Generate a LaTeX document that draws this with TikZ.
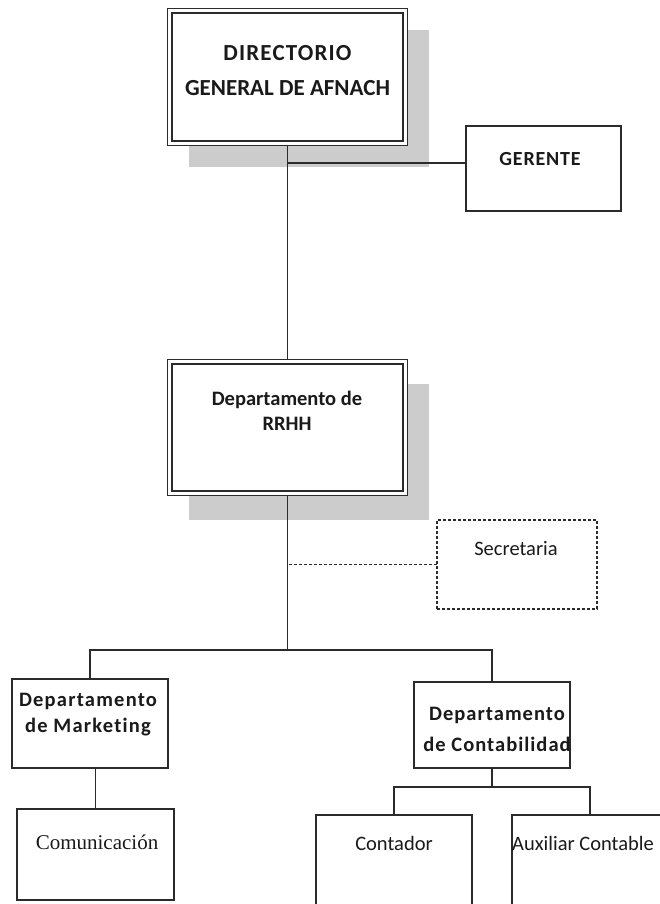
\documentclass[tikz,border=0pt]{standalone}
\usepackage{fontspec}
\setmainfont{Carlito}
\newfontfamily\comfont{Liberation Serif}
\usetikzlibrary{positioning,shadows}
\definecolor{boxink}{HTML}{2B2B2B}
\definecolor{shadowgray}{HTML}{CCCCCC}
\definecolor{textink}{HTML}{1A1A1A}
\tikzset{
  orgbox/.style={draw=boxink,line width=1.3pt,fill=white,outer sep=0pt,inner sep=0pt},
  headbox/.style={orgbox,line width=1.1pt,drop shadow={shadow xshift=21.5pt,shadow yshift=-#1,fill=shadowgray,opacity=1}},
  headbox/.default=21.5pt,
  boldlabel/.style={font=\fontsize{20.5}{25}\selectfont\bfseries,text=textink,inner sep=0pt,align=center,anchor=north},
  plainlabel/.style={font=\fontsize{20.5}{25}\selectfont,text=textink,inner sep=0pt,anchor=base},
  orgline/.style={draw=boxink,line width=1.3pt},
  innerline/.style={draw=boxink,line width=1.1pt},
}
\begin{document}
\begin{tikzpicture}[x=1pt,y=-1pt]
  \useasboundingbox (0,0) rectangle (660,904);
  \clip (0,0) rectangle (660,904);
  % boxes
  \node[headbox,minimum width=240pt,minimum height=137pt] (dir) at (287.5,77) {};
  \node[headbox=24pt,minimum width=240pt,minimum height=136pt] (rrhh) at (287.5,427.5) {};
  \draw[innerline] ([shift={(4.5pt,-4.5pt)}]dir.north west) rectangle ([shift={(-4.5pt,4.5pt)}]dir.south east);
  \draw[innerline] ([shift={(4.5pt,-4.5pt)}]rrhh.north west) rectangle ([shift={(-4.5pt,4.5pt)}]rrhh.south east);
  \node[orgbox,minimum width=155pt,minimum height=85pt] (ger) at (543.5,168.5) {};
  \node[orgbox,line width=1.1pt,dash pattern=on 3pt off 2pt,minimum width=160pt,minimum height=89pt] (sec) at (517,564.5) {};
  \node[orgbox,minimum width=156pt,minimum height=89pt] (mkt) at (90,723.5) {};
  \node[orgbox,minimum width=156pt,minimum height=86pt] (cont) at (492,725) {};
  \node[orgbox,minimum width=157pt,minimum height=91pt] (com) at (95.5,854.5) {};
  \node[orgbox,minimum width=156pt,minimum height=120pt] (ctr) at (394,875) {};
  \node[orgbox,minimum width=156pt,minimum height=120pt] (aux) at (590,875) {};
  % labels
  \node[boldlabel,font=\fontsize{23}{35}\selectfont\bfseries] (dirtext) at ([yshift=-37pt]dir.north) {{\addfontfeature{LetterSpace=5}DIRECTORIO}\\GENERAL DE AFNACH};
  \node[boldlabel,font=\fontsize{20}{24}\selectfont\bfseries\addfontfeature{LetterSpace=4}] (gertext) at ([xshift=-3.5pt,yshift=-26.5pt]ger.north) {GERENTE};
  \node[boldlabel] (rrhhtext) at ([xshift=-0.5pt,yshift=-31pt]rrhh.north) {Departamento de\\RRHH};
  \node[plainlabel] (sectext) at ([xshift=-1pt,yshift=-35pt]sec.north) {Secretaria};
  \node[boldlabel,font=\fontsize{20.5}{26}\selectfont\bfseries\addfontfeature{LetterSpace=6,Ligatures=NoCommon}] (mkttext) at ([xshift=-2pt,yshift=-14.3pt]mkt.north) {Departamento\\de Marketing};
  \node[boldlabel,font=\fontsize{20.5}{31}\selectfont\bfseries\addfontfeature{LetterSpace=5}] (conttext) at ([xshift=5pt,yshift=-24.7pt]cont.north) {Departamento\\de Contabilidad};
  \node[plainlabel,font=\fontsize{21}{25}\selectfont\comfont] (comtext) at ([xshift=1.5pt,yshift=-40pt]com.north) {Comunicación};
  \node[plainlabel] (ctrtext) at ([yshift=-35pt]ctr.north) {Contador};
  \node[plainlabel] (auxtext) at ([xshift=-7pt,yshift=-35pt]aux.north) {Auxiliar Contable};
  % connectors
  \coordinate (gerin) at ([yshift=5.5pt]ger.west);
  \coordinate (bus) at (287.5,650);
  \coordinate[below=19pt of cont.south] (cbus);
  \draw[orgline] (dir.south) -- (rrhh.north);
  \draw[orgline] (gerin) -- (gerin -| dir.south);
  \draw[orgline,line width=1pt,dash pattern=on 3pt off 2pt] (sec.west) -- (sec.west -| rrhh.south);
  \draw[orgline] (rrhh.south) -- (bus);
  \draw[orgline] (mkt.north) |- (bus) -| (cont.north);
  \draw[orgline] (mkt.south -| com.north) -- (com.north);
  \draw[orgline] (cont.south) -- (cbus);
  \draw[orgline] (ctr.north) |- (cbus) -| (aux.north);
\end{tikzpicture}
\end{document}
